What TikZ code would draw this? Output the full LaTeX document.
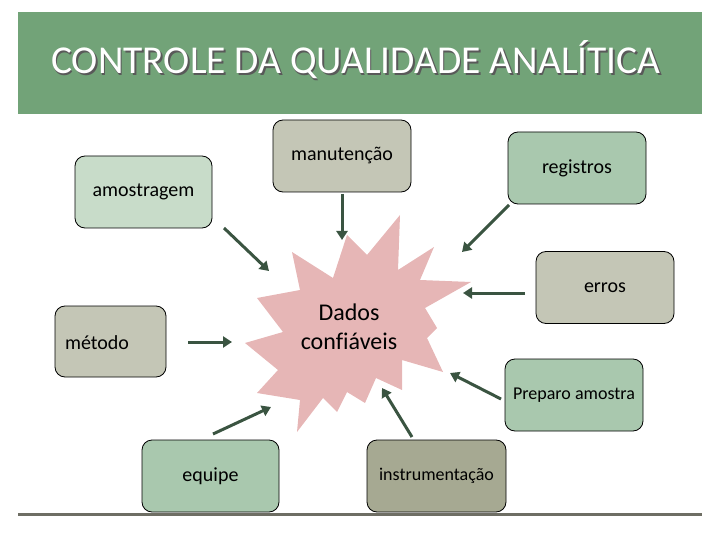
\documentclass[tikz,border=0pt]{standalone}
\usepackage{fontspec}
\setmainfont{Carlito}[Ligatures=NoCommon]
\usetikzlibrary{arrows.meta}
\definecolor{titlegreen}{HTML}{72A378}
\definecolor{boxgreen}{HTML}{A9C8AE}
\definecolor{boxlight}{HTML}{C8DCC9}
\definecolor{boxgrey}{HTML}{C4C6B6}
\definecolor{boxolive}{HTML}{A6A992}
\definecolor{starpink}{HTML}{E6B6B6}
\definecolor{arrowgreen}{HTML}{3A5441}
\definecolor{rulegrey}{HTML}{6E6E64}
\tikzset{
  box/.style={draw=black, line width=0.8pt, rounded corners=10pt, minimum width=138pt, minimum height=72pt, inner sep=0pt, font=\fontsize{20}{24}\selectfont, text=black},
  conn/.style={draw=arrowgreen, line width=3pt, -{Triangle[length=9pt,width=11pt]}},
}
\begin{document}
\begin{tikzpicture}[x=1pt,y=-1pt]
\useasboundingbox (0,0) rectangle (720,540);
% title bar
\fill[titlegreen] (18,12) rectangle (702,114);
\node[text=black!65, font=\fontsize{39.5}{46}\selectfont] (titleshadow) at (357.5,61.5) {CONTROLE DA QUALIDADE ANALÍTICA};
\node[text=white, font=\fontsize{39.5}{46}\selectfont] (title) at (356,60) {CONTROLE DA QUALIDADE ANALÍTICA};
% bottom rule
\draw[rulegrey, line width=3pt] (18,514) -- (702,514);
% star
\fill[starpink] (400,215) -- (398,270) -- (434,247) -- (420,280) -- (471,282) -- (425,308)
  -- (437,328) -- (427,338) -- (443,372) -- (402,360) -- (402,390) -- (376,378)
  -- (365,403) -- (347,392) -- (337,412) -- (323,398) -- (297,432) -- (300,400)
  -- (257,393) -- (278,370) -- (245,343) -- (283,332) -- (257,298) -- (300,290)
  -- (292,252) -- (333,278) -- (347,235) -- (367,255) -- cycle;
\node[align=center, font=\fontsize{24}{29}\selectfont] (star) at (349,327) {Dados\\confiáveis};
% boxes
\node[box, fill=boxgrey] (manut) at (342,156) {manutenção};
\node[box, fill=boxgreen] (regis) at (577,168) {registros};
\node[box, fill=boxlight, minimum width=137pt] (amost) at (143.5,192) {amostragem};
\node[box, fill=boxgrey] (erros) at (605,287.5) {erros};
\node[box, fill=boxgrey, minimum width=111pt, minimum height=71pt] (metodo) at (110.5,341.5) {};
\node[font=\fontsize{20}{24}\selectfont] (metodotxt) at (97,343) {método};
\node[box, fill=boxgreen, font=\fontsize{18}{22}\selectfont] (prep) at (574,395) {Preparo amostra};
\node[box, fill=boxgreen, minimum width=137pt] (equipe) at (210.5,476) {equipe};
\node[box, fill=boxolive, minimum width=139pt, font=\fontsize{18}{22}\selectfont] (instr) at (436.5,476) {instrumentação};
% arrow end points
\coordinate (a1s) at (342,194); \coordinate (a1e) at (342,240);
\coordinate (a2s) at (224,228); \coordinate (a2e) at (269,271);
\coordinate (a3s) at (509,205); \coordinate (a3e) at (462,252);
\coordinate (a4s) at (525,293); \coordinate (a4e) at (463,293);
\coordinate (a5s) at (501,399); \coordinate (a5e) at (450,373);
\coordinate (a6s) at (412,437); \coordinate (a6e) at (382,388);
\coordinate (a7s) at (213,434); \coordinate (a7e) at (271,407);
\coordinate (a8s) at (188,342); \coordinate (a8e) at (232,342);
\draw[conn] (a1s) -- (a1e);
\draw[conn] (a2s) -- (a2e);
\draw[conn] (a3s) -- (a3e);
\draw[conn] (a4s) -- (a4e);
\draw[conn] (a5s) -- (a5e);
\draw[conn] (a6s) -- (a6e);
\draw[conn] (a7s) -- (a7e);
\draw[conn] (a8s) -- (a8e);
\end{tikzpicture}
\end{document}
